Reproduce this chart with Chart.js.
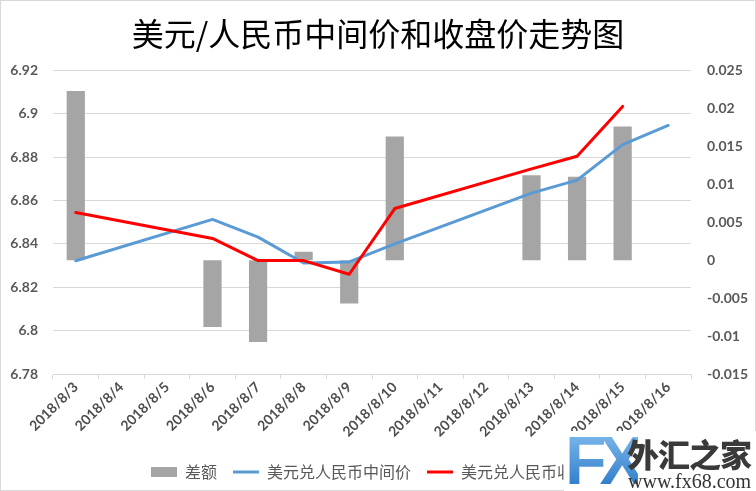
<!DOCTYPE html>
<html>
<head>
<meta charset="utf-8">
<script src="https://cdn.jsdelivr.net/npm/chart.js@4"></script>
<style>
  html, body { margin: 0; padding: 0; background: #fff; }
  #wrap { position: relative; width: 756px; height: 491px; box-sizing: border-box; border: 1px solid #d9d9d9; }
  canvas { display: block; }
  #logo { position: absolute; left: 563px; top: 430px; width: 193px; height: 61px; background: #fff; }
  #fx { position: absolute; left: 1px; top: -10px; font-family: "Liberation Sans", Arial, sans-serif; font-weight: bold; font-size: 68px; letter-spacing: -7px;
        background: linear-gradient(#8cc4f2, #1f6fc4); -webkit-background-clip: text; background-clip: text; color: transparent; }
  #cn { position: absolute; left: 63px; top: 5px; font-family: "Noto Sans CJK SC", sans-serif; font-weight: 900; font-size: 32px; line-height: 34px; color: #3a3a3a; letter-spacing: -1px; }
  #url { position: absolute; left: 64px; top: 40px; font-family: "Liberation Serif", serif; font-size: 20px; line-height: 20px; color: #333; }
</style>
</head>
<body>
<div id="wrap">
  <canvas id="c" width="754" height="489"></canvas>
  <div id="logo"><div id="fx">FX</div><div id="cn">外汇之家</div><div id="url">www.fx68.com</div></div>
</div>
<script>
const categories = ["2018/8/3","2018/8/4","2018/8/5","2018/8/6","2018/8/7","2018/8/8","2018/8/9","2018/8/10","2018/8/11","2018/8/12","2018/8/13","2018/8/14","2018/8/15","2018/8/16"];
const diffValues = [0.0223, null, null, -0.0088, -0.0108, 0.0011, -0.0057, 0.0163, null, null, 0.0112, 0.0110, 0.0176, null];
const midValues = [6.8322, null, null, 6.8513, 6.8431, 6.8312, 6.8317, 6.8400, null, null, 6.8634, 6.8694, 6.8858, 6.8946];
const closeValues = [6.8545, null, null, 6.8425, 6.8323, 6.8323, 6.8260, 6.8563, null, null, 6.8746, 6.8804, 6.9034, null];
const leftTicks = [6.78, 6.8, 6.82, 6.84, 6.86, 6.88, 6.9, 6.92];
const rightTicks = [-0.015, -0.01, -0.005, 0, 0.005, 0.01, 0.015, 0.02, 0.025];
const seriesNames = ["差额", "美元兑人民币中间价", "美元兑人民币收盘价"];
const titleText = "美元/人民币中间价和收盘价走势图";

const tickFont = { family: "Lato, 'Noto Sans', sans-serif", size: 14, weight: "bold" };

new Chart(document.getElementById("c"), {
  data: {
    labels: categories,
    datasets: [
      { type: "bar", label: seriesNames[0], data: diffValues, yAxisID: "y1", backgroundColor: "#a5a5a5",
        barPercentage: 0.4, categoryPercentage: 1.0, order: 1 },
      { type: "line", label: seriesNames[1], data: midValues, yAxisID: "y", borderColor: "#5b9bd5", backgroundColor: "#5b9bd5",
        borderWidth: 3, pointRadius: 0, tension: 0, spanGaps: true, order: 0.5, borderCapStyle: "round", borderJoinStyle: "round" },
      { type: "line", label: seriesNames[2], data: closeValues, yAxisID: "y", borderColor: "#ff0000", backgroundColor: "#ff0000",
        borderWidth: 3, pointRadius: 0, tension: 0, spanGaps: true, order: 0, borderCapStyle: "round", borderJoinStyle: "round" }
    ]
  },
  options: {
    responsive: false,
    animation: false,
    layout: { padding: { left: 0, right: 0, top: 0, bottom: 0 } },
    plugins: {
      tooltip: { enabled: false },
      title: { display: true, text: titleText, color: "#000",
        font: { family: "'Noto Sans CJK SC', sans-serif", size: 32, weight: "normal" },
        padding: { top: 14, bottom: 17 } },
      legend: { position: "bottom",
        labels: { usePointStyle: true, pointStyleWidth: 26, boxHeight: 10, padding: 16, color: "#595959",
          font: { family: "'Noto Sans CJK SC', sans-serif", size: 16 },
          sort: (a, b) => a.datasetIndex - b.datasetIndex,
          generateLabels: (chart) => chart.data.datasets.map((ds, i) => ({
            text: ds.label, fillStyle: ds.backgroundColor, strokeStyle: ds.borderColor || ds.backgroundColor,
            lineWidth: ds.type === "line" ? 3 : 0, pointStyle: ds.type === "line" ? "line" : "rect",
            datasetIndex: i, hidden: false, fontColor: "#595959"
          }))
        } }
    },
    scales: {
      x: {
        grid: { offset: true, drawOnChartArea: false, drawTicks: true, tickLength: 5, color: "#d9d9d9" },
        border: { color: "#d9d9d9" },
        ticks: { color: "#4d4d4d", font: { ...tickFont, size: 14 }, minRotation: 45, maxRotation: 45, autoSkip: false, padding: 0 },
        afterFit: (s) => { s.height = 74; }
      },
      y: {
        position: "left", min: 6.78, max: 6.92,
        afterBuildTicks: (s) => { s.ticks = leftTicks.map(v => ({ value: v })); },
        ticks: { color: "#595959", font: tickFont, padding: 15, callback: (v) => String(parseFloat(v.toFixed(4))) },
        grid: { color: "#d9d9d9", drawTicks: false },
        border: { display: false },
        afterFit: (s) => { s.width = 52; }
      },
      y1: {
        position: "right", min: -0.015, max: 0.025,
        afterBuildTicks: (s) => { s.ticks = rightTicks.map(v => ({ value: v })); },
        ticks: { color: "#595959", font: tickFont, padding: 16, callback: (v) => String(parseFloat(v.toFixed(4))) },
        grid: { display: false, drawTicks: false },
        border: { display: false },
        afterFit: (s) => { s.width = 64; }
      }
    }
  }
});
</script>
</body>
</html>
